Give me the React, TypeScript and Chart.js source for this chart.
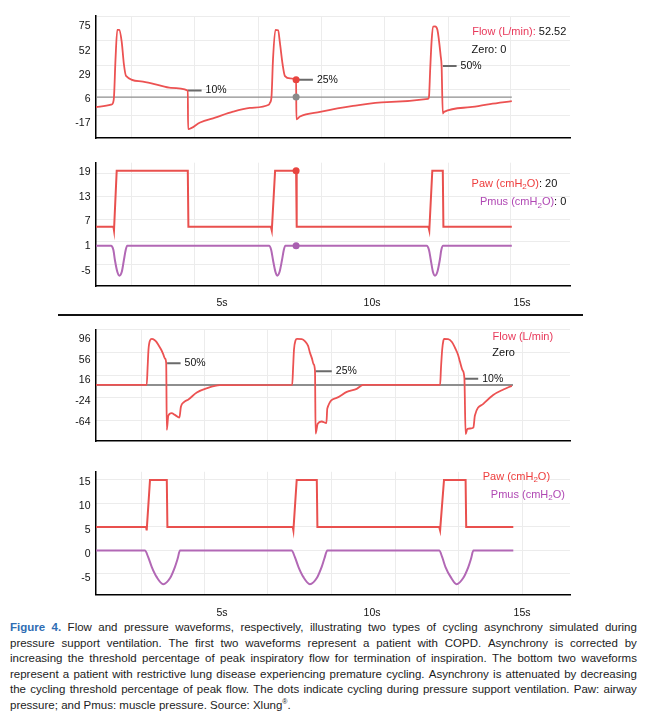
import React, { useEffect, useRef } from 'react';
import { Chart, registerables } from 'chart.js';

Chart.register(...registerables);

const FONT_FAMILY = '"Liberation Sans", Arial, sans-serif';

// ---------------- Panel 1: COPD flow (L/min) ----------------
const copdFlowTime = [0.8, 1.3, 1.37, 1.4, 1.45, 1.51, 1.58, 1.66, 1.73, 1.8, 2.3, 2.82, 3.3, 3.86, 3.87, 4.27, 4.77, 5.37, 5.93, 6.56, 6.6, 6.65, 6.7, 6.78, 6.87, 6.93, 7.02, 7.1, 7.27, 7.47, 7.48, 7.6, 8.27, 9.37, 10.5, 11.87, 11.9, 11.94, 11.99, 12.04, 12.1, 12.18, 12.29, 12.32, 12.36, 12.4, 13.27, 13.93, 14.66];
const copdFlowValue = [-1.4, 0.8, 2.7, 8.3, 43.8, 71.9, 71.9, 59.7, 39.2, 28.2, 23.0, 19.8, 16.8, 14.2, -22.3, -16.1, -11.4, -5.8, -2.3, 0.8, 2.7, 8.3, 43.8, 71.9, 71.4, 59.7, 39.2, 27.9, 25.8, 24.5, -13.0, -10.4, -6.0, -0.4, 3.3, 6.4, 8.5, 34.5, 62.6, 75.0, 75.2, 71.9, 46.9, 37.6, -7.6, -6.0, -1.6, 1.4, 4.2];
const copdZeroTime = [0.83, 14.66];
const copdZeroValue = [8, 8];
const copdMarkStart = [3.86, 7.47, 12.36];
const copdMarkEnd = [4.32, 8.03, 12.82];
const copdMarkLevel = [14.2, 24.5, 37.6];
const copdMarkText = ['10%', '25%', '50%'];
const copdCycleTime = [7.47];
const copdFlowCycle = [24.5];
const copdZeroCycle = [8];

// ---------------- Panel 2: COPD pressures (cmH2O) ----------------
const copdPawTime = [0.8, 1.38, 1.4, 1.49, 3.86, 3.88, 6.63, 6.66, 6.77, 7.47, 7.49, 11.88, 11.91, 12.01, 12.36, 12.38, 14.66];
const copdPawValue = [5.73, 5.73, 4.8, 19.39, 19.39, 5.73, 5.73, 4.8, 19.39, 19.39, 5.73, 5.73, 4.8, 19.39, 19.39, 5.73, 5.73];
const copdPmusTime = [0.8, 1.3, 1.38, 1.43, 1.51, 1.58, 1.66, 1.73, 1.79, 1.84, 6.57, 6.64, 6.7, 6.78, 6.84, 6.92, 7.0, 7.06, 7.11, 11.82, 11.9, 11.96, 12.03, 12.1, 12.18, 12.26, 12.31, 12.37, 14.66];
const copdPmusValue = [1.1, 1.1, 0.05, -2.4, -5.25, -6.2, -5.25, -2.4, 0.05, 1.1, 1.1, 0.05, -2.4, -5.25, -6.2, -5.25, -2.4, 0.05, 1.1, 1.1, 0.05, -2.4, -5.25, -6.2, -5.25, -2.4, 0.05, 1.1, 1.1];
const copdPawCycle = [19.39];
const copdPmusCycle = [1.1];

// ---------------- Panel 3: restrictive flow (L/min) ----------------
const restFlowTime = [0.8, 2.49, 2.52, 2.55, 2.6, 2.66, 2.7, 2.8, 2.88, 2.97, 3.04, 3.1, 3.14, 3.16, 3.21, 3.32, 3.43, 3.58, 3.63, 3.73, 3.88, 4.16, 4.49, 4.93, 7.34, 7.37, 7.4, 7.45, 7.5, 7.66, 7.77, 7.87, 7.93, 8.0, 8.05, 8.1, 8.12, 8.19, 8.32, 8.48, 8.51, 8.82, 9.16, 9.49, 9.71, 12.27, 12.3, 12.34, 12.38, 12.41, 12.54, 12.67, 12.77, 12.87, 12.93, 13.02, 13.08, 13.12, 13.18, 13.27, 13.38, 13.43, 13.71, 14.04, 14.38, 14.66];
const restFlowValue = [7.5, 7.5, 40.7, 75.6, 93, 96, 95.7, 91.3, 84.3, 75.6, 66.9, 58.1, 49.4, -78.9, -51.8, -46.6, -50.1, -55.3, -34.4, -25.6, -20.4, -7, 1.1, 7, 7.5, 40.7, 75.6, 93, 96, 95.7, 91.3, 82.6, 69.8, 58.1, 47.7, 34.6, -86.2, -67, -62.8, -65.8, -37.9, -17.4, -5.9, 0, 7.5, 7.5, 40.7, 75.6, 93, 96, 95.7, 89.5, 78.5, 65.1, 52.4, 35.4, 20.3, -87.2, -76.8, -76.3, -74.5, -51.3, -29.1, -11.7, -1.2, 5.8];
const restZeroTime = [0.8, 14.7];
const restZeroValue = [7.5, 7.5];
const restMarkStart = [3.17, 8.12, 13.08];
const restMarkEnd = [3.62, 8.66, 13.54];
const restMarkLevel = [49.4, 33.7, 19.2];
const restMarkText = ['50%', '25%', '10%'];

// ---------------- Panel 4: restrictive pressures (cmH2O) ----------------
const restPawTime = [0.8, 2.47, 2.49, 2.6, 3.16, 3.18, 7.36, 7.38, 7.49, 8.16, 8.18, 12.24, 12.27, 12.4, 13.12, 13.14, 14.71];
const restPawValue = [5.64, 5.64, 4.93, 15.35, 15.35, 5.64, 5.64, 4.93, 15.35, 15.35, 5.64, 5.64, 4.93, 15.35, 15.35, 5.64, 5.64];
const restPmusTime = [0.8, 2.43, 2.54, 2.66, 2.82, 3.04, 3.27, 3.43, 3.52, 3.6, 7.32, 7.43, 7.55, 7.71, 7.93, 8.16, 8.32, 8.41, 8.51, 12.24, 12.34, 12.45, 12.62, 12.82, 13.04, 13.21, 13.3, 13.38, 14.71];
const restPmusValue = [0.76, 0.76, -0.6, -2.64, -4.67, -6.16, -4.9, -2.64, -0.93, 0.76, 0.76, -0.6, -2.64, -4.67, -6.16, -4.9, -2.64, -0.93, 0.76, 0.76, -0.6, -2.64, -4.67, -6.16, -4.9, -2.64, -0.93, 0.76, 0.76];

// ---------------- Axes: tick labels and grid lines ----------------
const copdFlowTicks = [-17, 6, 29, 52, 75];
const copdPressureTicks = [-5, 1, 7, 13, 19];
const restFlowTicks = [-64, -24, 16, 56, 96];
const restPressureTicks = [-5, 0, 5, 10, 15];
const timeLabelTicks = [5, 10, 15];

const copdFlowGrid = [-9.5, 15.1, 38.0, 61.4, 85];
const copdPressureGrid = [-3.44, 2.07, 7.54, 13.2, 18.76];
const restFlowGrid = [-61, -17.4, 26.2, 69.8, 113.5];
const restPressureGrid = [-3.98, 0.76, 5.7, 10.58, 15.45];
const copdGridTime = [1.99, 4.08, 6.21, 8.3, 10.41, 12.54, 14.63];
const restGridTime = [2.3, 4.4, 6.5, 8.65, 10.77, 12.88, 15.0];

const X_MIN = 0.8;
const X_MAX = 16.6;

// ---------------- Styles ----------------
const FLOW_COLOR = '#ec5252';
const PAW_COLOR = '#e9504e';
const PMUS_COLOR = '#b268b5';
const ZERO_COLOR = '#8e8e8e';
const MARK_COLOR = '#6a6a6a';
const GRID_COLOR = '#ececec';
const FLOW_LABEL = '#e8385a';
const PAW_LABEL = '#ee3d3d';
const PMUS_LABEL = '#b048b4';
const TEXT_COLOR = '#111';

const xy = (xs: number[], ys: number[]) => xs.map((x, i) => ({ x, y: ys[i] }));

const lineDs = (xs: number[], ys: number[], color: string, width: number, order: number, smooth: boolean) => ({
  data: xy(xs, ys),
  borderColor: color,
  backgroundColor: color,
  borderWidth: width,
  pointRadius: 0,
  fill: false,
  tension: 0,
  cubicInterpolationMode: smooth ? 'monotone' : 'default',
  order,
  xAxisID: 'x',
  yAxisID: 'y',
});

const dotDs = (xs: number[], ys: number[], color: string) => ({
  data: xy(xs, ys),
  showLine: false,
  pointRadius: 3.5,
  pointBorderWidth: 0,
  pointBackgroundColor: color,
  pointBorderColor: color,
  order: 0,
  xAxisID: 'x',
  yAxisID: 'y',
});

const markerDs = (start: number[], end: number[], level: number[]) =>
  start.map((s, i) => ({
    data: [{ x: s, y: level[i] }, { x: end[i], y: level[i] }],
    borderColor: MARK_COLOR,
    borderWidth: 2,
    pointRadius: 0,
    order: 2,
    xAxisID: 'x',
    yAxisID: 'y',
  }));

type Part = { text: string; color: string; sub?: boolean };
type TextItem = { x: number; y: number; dx?: number; size?: number; parts: Part[] };

const markerTexts = (end: number[], level: number[], text: string[]): TextItem[] =>
  end.map((e, i) => ({ x: e, y: level[i], dx: 4, size: 10.5, parts: [{ text: text[i], color: TEXT_COLOR }] }));

const pressureLabel = (name: string, color: string, tail: string): Part[] => [
  { text: `${name} (cmH`, color },
  { text: '2', color, sub: true },
  { text: 'O)', color },
  ...(tail ? [{ text: tail, color: TEXT_COLOR }] : []),
];

const textPlugin = {
  id: 'waveText',
  afterDatasetsDraw(chart: any, _args: any, opts: any) {
    const items: TextItem[] = (opts && opts.items) || [];
    const { ctx, scales } = chart;
    ctx.save();
    ctx.textBaseline = 'middle';
    ctx.textAlign = 'left';
    for (const it of items) {
      const size = it.size || 11;
      let px = scales.x.getPixelForValue(it.x) + (it.dx || 0);
      const py = scales.y.getPixelForValue(it.y);
      for (const p of it.parts) {
        ctx.font = `${p.sub ? Math.round(size * 0.7) : size}px ${FONT_FAMILY}`;
        ctx.fillStyle = p.color;
        ctx.fillText(p.text, px, py + (p.sub ? 3 : 0));
        px += ctx.measureText(p.text).width;
      }
    }
    ctx.restore();
  },
};

type Panel = {
  top: number;
  height: number;
  padTop: number;
  padBottom: number;
  range: [number, number];
  yTicks: number[];
  yGrid: number[];
  xGrid: number[];
  timeAxis?: { height: number; padding: number };
  datasets: any[];
  texts: TextItem[];
};

const panels: Panel[] = [
  {
    top: 0, height: 150, padTop: 16, padBottom: 10,
    range: [-31, 85], yTicks: copdFlowTicks, yGrid: copdFlowGrid, xGrid: copdGridTime,
    datasets: [
      lineDs(copdFlowTime, copdFlowValue, FLOW_COLOR, 1.8, 1, true),
      lineDs(copdZeroTime, copdZeroValue, ZERO_COLOR, 1.2, 3, false),
      ...markerDs(copdMarkStart, copdMarkEnd, copdMarkLevel),
      dotDs(copdCycleTime, copdFlowCycle, '#e8443f'),
      dotDs(copdCycleTime, copdZeroCycle, '#8a8a8a'),
    ],
    texts: [
      ...markerTexts(copdMarkEnd, copdMarkLevel, copdMarkText),
      { x: 13.34, y: 69.8, parts: [{ text: 'Flow (L/min):', color: FLOW_LABEL }, { text: ' 52.52', color: TEXT_COLOR }] },
      { x: 13.32, y: 52.5, parts: [{ text: 'Zero: 0', color: TEXT_COLOR }] },
    ],
  },
  {
    top: 150, height: 165, padTop: 12.7, padBottom: 0,
    range: [-8.73, 21.34], yTicks: copdPressureTicks, yGrid: copdPressureGrid, xGrid: copdGridTime,
    timeAxis: { height: 29, padding: 10.4 },
    datasets: [
      lineDs(copdPawTime, copdPawValue, PAW_COLOR, 2, 1, false),
      lineDs(copdPmusTime, copdPmusValue, PMUS_COLOR, 2, 1, true),
      dotDs(copdCycleTime, copdPawCycle, '#e8443f'),
      dotDs(copdCycleTime, copdPmusCycle, '#a95fb0'),
    ],
    texts: [
      { x: 13.32, y: 16.15, parts: pressureLabel('Paw', PAW_LABEL, ': 20') },
      { x: 13.6, y: 11.68, parts: pressureLabel('Pmus', PMUS_LABEL, ': 0') },
    ],
  },
  {
    top: 318, height: 135, padTop: 5.3, padBottom: 7,
    range: [-100.7, 113.5], yTicks: restFlowTicks, yGrid: restFlowGrid, xGrid: restGridTime,
    datasets: [
      lineDs(restFlowTime, restFlowValue, FLOW_COLOR, 1.8, 1, true),
      lineDs(restZeroTime, restZeroValue, ZERO_COLOR, 2, 3, false),
      ...markerDs(restMarkStart, restMarkEnd, restMarkLevel),
    ],
    texts: [
      ...markerTexts(restMarkEnd, restMarkLevel, restMarkText),
      { x: 14.02, y: 98.8, parts: [{ text: 'Flow (L/min)', color: FLOW_LABEL }] },
      { x: 14.01, y: 69.8, parts: [{ text: 'Zero', color: TEXT_COLOR }] },
    ],
  },
  {
    top: 460, height: 160, padTop: 10, padBottom: 0,
    range: [-8.26, 17.03], yTicks: restPressureTicks, yGrid: restPressureGrid, xGrid: restGridTime,
    timeAxis: { height: 25.7, padding: 12.4 },
    datasets: [
      lineDs(restPawTime, restPawValue, PAW_COLOR, 2, 1, false),
      lineDs(restPmusTime, restPmusValue, PMUS_COLOR, 2, 1, true),
    ],
    texts: [
      { x: 13.69, y: 16.0, parts: pressureLabel('Paw', PAW_LABEL, '') },
      { x: 13.96, y: 12.3, parts: pressureLabel('Pmus', PMUS_LABEL, '') },
    ],
  },
];

const tickFont = { family: FONT_FAMILY, size: 10.5 };

function buildChart(canvas: HTMLCanvasElement, p: Panel) {
  const [min, max] = p.range;
  const scales: any = {
    x: {
      type: 'linear', position: 'bottom', min: X_MIN, max: X_MAX, weight: 0,
      afterBuildTicks: (s: any) => { s.ticks = p.xGrid.map((v) => ({ value: v })); },
      afterFit: (s: any) => { s.height = 0; },
      ticks: { display: false },
      grid: { color: GRID_COLOR, lineWidth: 1, drawTicks: false },
      border: { display: true, color: '#000', width: 1.5 },
    },
    y: {
      type: 'linear', position: 'left', min, max,
      afterBuildTicks: (s: any) => { s.ticks = p.yTicks.map((v) => ({ value: v })); },
      afterFit: (s: any) => { s.width = 96; },
      ticks: { padding: 5.5, color: TEXT_COLOR, font: tickFont, autoSkip: false, callback: (v: any) => String(v) },
      grid: { display: false, drawTicks: false },
      border: { display: true, color: '#000', width: 1.5 },
    },
    yg: {
      type: 'linear', position: 'right', min, max,
      afterBuildTicks: (s: any) => { s.ticks = p.yGrid.map((v) => ({ value: v })); },
      afterFit: (s: any) => { s.width = 0; },
      ticks: { display: false },
      grid: { color: GRID_COLOR, lineWidth: 1, drawTicks: false },
      border: { display: false },
    },
  };
  if (p.timeAxis) {
    const ta = p.timeAxis;
    scales.xl = {
      type: 'linear', position: 'bottom', min: X_MIN, max: X_MAX, weight: 1,
      afterBuildTicks: (s: any) => { s.ticks = timeLabelTicks.map((v) => ({ value: v })); },
      afterFit: (s: any) => { s.height = ta.height; },
      ticks: { padding: ta.padding, color: TEXT_COLOR, font: tickFont, autoSkip: false, maxRotation: 0, callback: (v: any) => `${v}s` },
      grid: { display: false, drawTicks: false },
      border: { display: false },
    };
  }
  return new Chart(canvas, {
    type: 'line',
    data: { datasets: p.datasets },
    options: {
      animation: false,
      responsive: false,
      maintainAspectRatio: false,
      events: [],
      layout: { padding: { left: 0, right: 79, top: p.padTop, bottom: p.padBottom } },
      plugins: {
        legend: { display: false },
        tooltip: { enabled: false },
        waveText: { items: p.texts },
      } as any,
      scales,
    },
    plugins: [textPlugin as any],
  } as any);
}

const captionLines = [
  'Figure 4. Flow and pressure waveforms, respectively, illustrating two types of cycling asynchrony simulated during',
  'pressure support ventilation. The first two waveforms represent a patient with COPD. Asynchrony is corrected by',
  'increasing the threshold percentage of peak inspiratory flow for termination of inspiration. The bottom two waveforms',
  'represent a patient with restrictive lung disease experiencing premature cycling. Asynchrony is attenuated by decreasing',
  'the cycling threshold percentage of peak flow. The dots indicate cycling during pressure support ventilation. Paw: airway',
  'pressure; and Pmus: muscle pressure. Source: Xlung®.',
];

function renderWord(w: string, line: number, idx: number, trailing: boolean) {
  const text = trailing ? w + ' ' : w;
  if (line === 0 && idx < 2) {
    return <span key={idx} style={{ fontWeight: 700, color: '#2f6db3' }}>{text}</span>;
  }
  if (w.includes('®')) {
    const [a, b] = w.split('®');
    return (
      <span key={idx}>
        {a}
        <sup style={{ fontSize: 7, lineHeight: 0 }}>®</sup>
        {b}
        {trailing ? ' ' : ''}
      </span>
    );
  }
  return <span key={idx}>{text}</span>;
}

export default function App() {
  const r0 = useRef<HTMLCanvasElement>(null);
  const r1 = useRef<HTMLCanvasElement>(null);
  const r2 = useRef<HTMLCanvasElement>(null);
  const r3 = useRef<HTMLCanvasElement>(null);
  const refs = [r0, r1, r2, r3];

  useEffect(() => {
    const charts = panels.map((p, i) => buildChart(refs[i].current as HTMLCanvasElement, p));
    return () => charts.forEach((c) => c.destroy());
  }, []);

  return (
    <div style={{ position: 'absolute', left: 0, top: 0, width: 649, height: 716, background: '#fff', overflow: 'hidden' }}>
      {panels.map((p, i) => (
        <canvas
          key={i}
          ref={refs[i]}
          width={649}
          height={p.height}
          style={{ position: 'absolute', left: 0, top: p.top, width: 649, height: p.height }}
        />
      ))}
      <div style={{ position: 'absolute', left: 58, top: 314, width: 525, height: 2, background: '#111' }} />
      <div
        style={{
          position: 'absolute', left: 10, top: 620, width: 627,
          fontFamily: FONT_FAMILY, fontSize: 11.5, lineHeight: '15.6px', color: '#1c1c1c',
        }}
      >
        {captionLines.map((line, i) => {
          const words = line.split(' ');
          const last = i === captionLines.length - 1;
          return (
            <div
              key={i}
              style={{ display: 'flex', justifyContent: last ? 'flex-start' : 'space-between', height: 15.6, whiteSpace: 'pre' }}
            >
              {words.map((w, j) => renderWord(w, i, j, last && j < words.length - 1))}
            </div>
          );
        })}
      </div>
    </div>
  );
}
